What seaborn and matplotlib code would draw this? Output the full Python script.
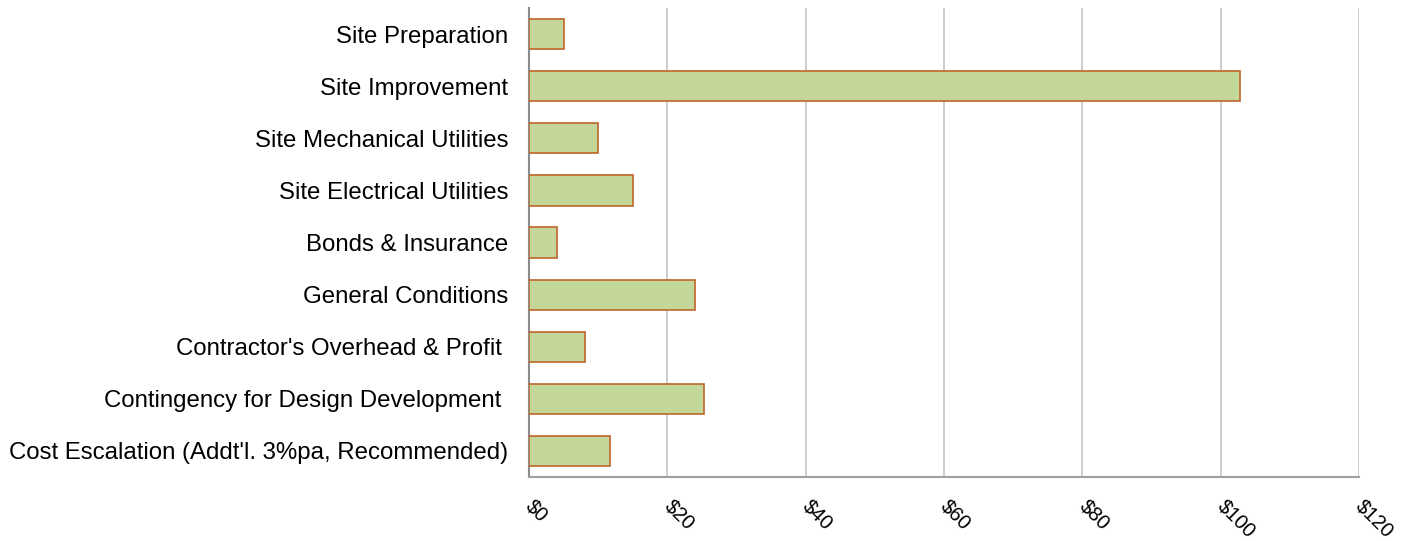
import matplotlib
matplotlib.use("Agg")
import matplotlib.pyplot as plt
import seaborn as sns
import pandas as pd

# Datos del gráfico
categorias = [
    "Site Preparation",
    "Site Improvement",
    "Site Mechanical Utilities",
    "Site Electrical Utilities",
    "Bonds & Insurance",
    "General Conditions",
    "Contractor's Overhead & Profit ",
    "Contingency for Design Development ",
    "Cost Escalation (Addt'l. 3%pa, Recommended)",
]
valores = [5.0, 102.8, 10.0, 15.0, 4.0, 24.0, 8.1, 25.3, 11.7]
ticks_x = [0, 20, 40, 60, 80, 100, 120]
etiquetas_x = ["$0", "$20", "$40", "$60", "$80", "$100", "$120"]

df = pd.DataFrame({"categoria": categorias, "valor": valores})

sns.set_style("white")
plt.rcParams["font.family"] = ["Liberation Sans", "DejaVu Sans"]
plt.rcParams["text.parse_math"] = False

fig = plt.figure(figsize=(14.19, 5.41), dpi=100)
ax = fig.add_axes([0.3728, 0.1183, 0.5849, 0.8667])

sns.barplot(data=df, x="valor", y="categoria", orient="h", color="#c4d79b",
            saturation=1, width=0.58, edgecolor="#c0652b", linewidth=1.2,
            ax=ax, zorder=3)

ax.set_xlim(0, 120)
ax.set_ylim(8.5, -0.5)
ax.set_xticks(ticks_x)
ax.set_xticklabels(etiquetas_x, rotation=-45, ha="left", va="center",
                   rotation_mode="anchor", fontsize=14.5, color="black")
ax.tick_params(axis="x", pad=19, length=0)
ax.tick_params(axis="y", labelsize=17.3, labelcolor="black", length=0, pad=15)
ax.set_xlabel("")
ax.set_ylabel("")

ax.grid(axis="x", color="#c6c6c6", linewidth=1.2, zorder=0)
ax.set_axisbelow(True)
for lado in ["top", "right"]:
    ax.spines[lado].set_visible(False)
ax.spines["left"].set_color("#8c8c8c")
ax.spines["left"].set_linewidth(1.5)
ax.spines["bottom"].set_color("#a0a0a0")
ax.spines["bottom"].set_linewidth(1.5)

fig.savefig("out.png", dpi=100)
